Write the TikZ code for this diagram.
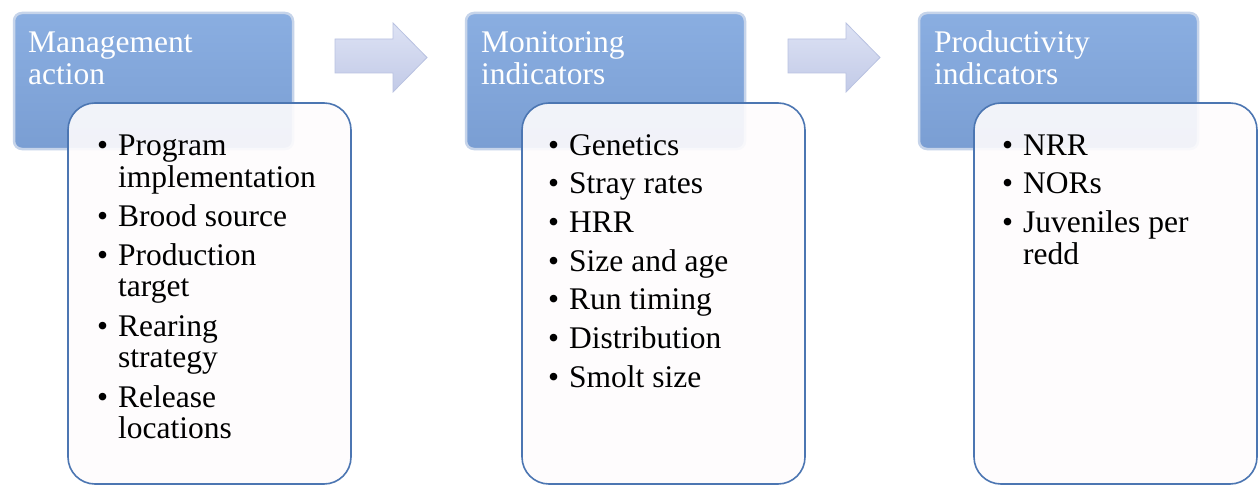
\documentclass[tikz,border=0pt]{standalone}
\usepackage{fontspec}
\setmainfont{Liberation Serif}
\definecolor{hdrtop}{HTML}{8AAEE1}
\definecolor{hdrbot}{HTML}{7A9ED3}
\definecolor{hdrglow}{HTML}{C6D4EA}
\definecolor{listborder}{HTML}{4C76B2}
\definecolor{listfill}{HTML}{FEFCFD}
\definecolor{arrtop}{HTML}{DDE2F4}
\definecolor{arrbot}{HTML}{C2CAE7}
\definecolor{arredge}{HTML}{B9C2E1}
\tikzset{
  hdrbox/.style={rounded corners=8pt, top color=hdrtop, bottom color=hdrbot,
    draw=hdrglow, line width=2.5pt, inner sep=0pt, outer sep=0pt,
    minimum width=279pt, minimum height=136pt, anchor=north west},
  lstbox/.style={rounded corners=27pt, fill=listfill, fill opacity=0.9,
    draw=listborder, draw opacity=1, line width=1.6pt, inner sep=0pt, outer sep=0pt,
    minimum width=283pt, minimum height=381pt, anchor=north west},
  hdrtext/.style={anchor=base west, inner sep=0pt, text=white,
    font=\fontsize{31.5}{32}\selectfont},
  lsttext/.style={anchor=base west, inner sep=0pt, text=black,
    font=\fontsize{31.5}{32}\selectfont},
  blockarrow/.style={top color=arrtop, bottom color=arrbot, draw=arredge, line width=0.8pt}
}
\newcommand{\bul}{\makebox[21pt][l]{\textbullet}}
\begin{document}
\begin{tikzpicture}[x=1pt,y=-1pt]
\path[fill=white] (0,0) rectangle (1259,487);
\useasboundingbox (0,0) rectangle (1259,487);

% headers
\node[hdrbox] (h1) at (14,13) {};
\node[hdrbox] (h2) at (466,13) {};
\node[hdrbox] (h3) at (919,13) {};
\node[hdrtext] (t1) at (28,53) {\begin{tabular}[t]{@{}l@{}}Management\\action\end{tabular}};
\node[hdrtext] (t2) at (481,53) {\begin{tabular}[t]{@{}l@{}}Monitoring\\indicators\end{tabular}};
\node[hdrtext] (t3) at (934,53) {\begin{tabular}[t]{@{}l@{}}Productivity\\indicators\end{tabular}};

% block arrows
\coordinate (a1) at (335,0);
\coordinate (a2) at (788,0);
\draw[blockarrow, shift={(a1)}] (0,39) -- (58,39) -- (58,23) -- (92,57.5) -- (58,92) -- (58,73) -- (0,73) -- cycle;
\draw[blockarrow, shift={(a2)}] (0,39) -- (58,39) -- (58,23) -- (92,57.5) -- (58,92) -- (58,73) -- (0,73) -- cycle;

% list boxes
\node[lstbox] (l1) at (68,103) {};
\node[lstbox] (l2) at (522,103) {};
\node[lstbox] (l3) at (974,103) {};

\node[lsttext] (b1) at (97,155) {\begin{tabular}[t]{@{}l@{}l@{}}
\bul & Program\\
 & implementation\\[7pt]
\bul & Brood source\\[7pt]
\bul & Production\\
 & target\\[7pt]
\bul & Rearing\\
 & strategy\\[7pt]
\bul & Release\\
 & locations
\end{tabular}};

\node[lsttext] (b2) at (548,155) {\begin{tabular}[t]{@{}l@{}l@{}}
\bul & Genetics\\[6.7pt]
\bul & Stray rates\\[6.7pt]
\bul & HRR\\[6.7pt]
\bul & Size and age\\[6.7pt]
\bul & Run timing\\[6.7pt]
\bul & Distribution\\[6.7pt]
\bul & Smolt size
\end{tabular}};

\node[lsttext] (b3) at (1002,155) {\begin{tabular}[t]{@{}l@{}l@{}}
\bul & NRR\\[6.7pt]
\bul & NORs\\[6.7pt]
\bul & Juveniles per\\
 & redd
\end{tabular}};
\end{tikzpicture}
\end{document}
